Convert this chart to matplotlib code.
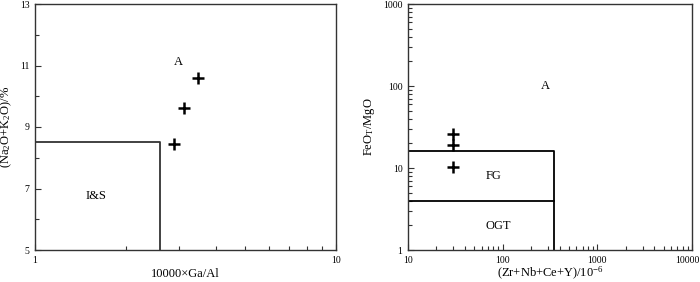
import matplotlib
matplotlib.use("Agg")
import matplotlib.pyplot as plt
from matplotlib.ticker import LogLocator, FixedLocator, NullFormatter, FuncFormatter
from matplotlib.transforms import ScaledTranslation

plt.rcParams['font.family'] = ['Liberation Serif', 'DejaVu Serif']
plt.rcParams['mathtext.fontset'] = 'custom'
plt.rcParams['mathtext.rm'] = 'Liberation Serif'
plt.rcParams['mathtext.it'] = 'Liberation Serif:italic'

# Left diagram: 10000*Ga/Al vs Na2O+K2O
ga_al = [3.47, 3.12, 2.90]
alk = [10.58, 9.61, 8.44]
is_box_x = [1, 2.6, 2.6]
is_box_y = [8.5, 8.5, 5]

# Right diagram: Zr+Nb+Ce+Y vs FeOT/MgO
zncy = [30, 30, 30]
feo_mgo = [26, 19, 10.4]
fg_box_x = [10, 350, 350]
fg_box_y = [16, 16, 1]
ogt_line_x = [10, 350]
ogt_line_y = [4, 4]

fig = plt.figure(figsize=(7, 2.82), dpi=100)
ax1 = fig.add_axes([35/700, 1-250/282, 301/700, 246/282])
ax2 = fig.add_axes([408/700, 1-250/282, 284/700, 246/282])

edge = '#333333'
for ax in (ax1, ax2):
    for s in ax.spines.values():
        s.set_color(edge)
        s.set_linewidth(1.0)
    ax.tick_params(which='both', direction='in', top=False, right=False,
                   labelsize=7, colors=edge, labelcolor='black', width=0.8)
    ax.tick_params(which='major', length=4)
    ax.tick_params(which='minor', length=3)
    ax.tick_params(axis='x', pad=4.5)
    ax.tick_params(axis='y', pad=4)

# Left
ax1.set_xscale('log')
ax1.set_xlim(1, 10)
ax1.set_ylim(5, 13)
ax1.xaxis.set_major_locator(FixedLocator([1, 10]))
ax1.xaxis.set_major_formatter(FuncFormatter(lambda v, p: f'{v:g}'))
ax1.xaxis.set_minor_locator(LogLocator(base=10, subs=range(2, 10)))
ax1.xaxis.set_minor_formatter(NullFormatter())
ax1.yaxis.set_major_locator(FixedLocator([5, 7, 9, 11, 13]))
ax1.yaxis.set_minor_locator(FixedLocator([6, 8, 10, 12]))
ax1.plot(is_box_x, is_box_y, color=edge, lw=1.3)
ax1.plot(ga_al, alk, linestyle='none', marker='+', ms=9, mew=1.8, color='black')
ax1.text(2.99, 11.1, 'A', fontsize=9, ha='center', va='center')
ax1.text(1.6, 6.76, 'I&S', fontsize=9, ha='center', va='center')
ax1.set_xlabel('10000×Ga/Al', fontsize=9, labelpad=2)
ax1.set_ylabel(r'(Na$_2$O+K$_2$O)/%', fontsize=9, labelpad=4)

# Right
ax2.set_xscale('log')
ax2.set_yscale('log')
ax2.set_xlim(10, 10000)
ax2.set_ylim(1, 1000)
fmt = FuncFormatter(lambda v, p: f'{v:g}')
ax2.xaxis.set_major_locator(FixedLocator([10, 100, 1000, 10000]))
ax2.xaxis.set_major_formatter(fmt)
ax2.xaxis.set_minor_locator(LogLocator(base=10, subs=range(2, 10)))
ax2.xaxis.set_minor_formatter(NullFormatter())
ax2.yaxis.set_major_locator(LogLocator(base=10))
ax2.yaxis.set_major_formatter(fmt)
ax2.yaxis.set_minor_locator(LogLocator(base=10, subs=range(2, 10)))
ax2.yaxis.set_minor_formatter(NullFormatter())
ax2.plot(fg_box_x, fg_box_y, color='black', lw=1.3)
ax2.plot(ogt_line_x, ogt_line_y, color='black', lw=1.3)
ax2.plot(zncy, feo_mgo, linestyle='none', marker='+', ms=9, mew=1.8, color='black')
ax2.text(284, 100, 'A', fontsize=9, ha='center', va='center')
ax2.text(80, 8.05, 'FG', fontsize=9, ha='center', va='center')
ax2.text(90, 1.98, 'OGT', fontsize=9, ha='center', va='center')
ax2.set_xlabel(r'(Zr+Nb+Ce+Y)/10$^{-6}$', fontsize=9, labelpad=0)
ax2.set_ylabel(r'FeO$_\mathrm{T}$/MgO', fontsize=9, labelpad=4)

# shift the last x tick label slightly left so it stays inside the figure
last = ax2.xaxis.get_major_ticks(4)[3]
last.label1.set_transform(last.label1.get_transform()
                          + ScaledTranslation(-5/100, 0, fig.dpi_scale_trans))

fig.savefig('out.png', dpi=100)
